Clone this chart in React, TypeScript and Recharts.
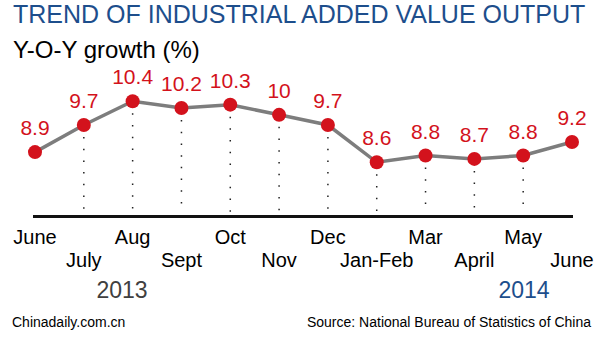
import { LineChart, Line, XAxis, YAxis, LabelList } from "recharts";

const months = ["June", "July", "Aug", "Sept", "Oct", "Nov", "Dec", "Jan-Feb", "Mar", "April", "May", "June"];
const growth = [8.9, 9.7, 10.4, 10.2, 10.3, 10.0, 9.7, 8.6, 8.8, 8.7, 8.8, 9.2];
const yearLabels = ["2013", "2014"];

const data = months.map((m, i) => ({ id: i, month: m, growth: growth[i] }));

const FONT = "'Liberation Sans', Arial, sans-serif";
const RED = "#d3121c";
const BLUE = "#1d4e8c";
const AXIS_Y = 216.5;

const Tick = (props: any) => {
  const { x, y, payload, index } = props;
  const dy = index % 2 === 0 ? 27.5 : 50.5;
  return (
    <text x={x} y={y + dy} textAnchor="middle" fontSize={20} fontFamily={FONT} fill="#000">
      {months[payload.value]}
    </text>
  );
};

const Dot = (props: any) => {
  const { cx, cy, index } = props;
  const showDrop = index > 0 && index < months.length - 1;
  return (
    <g key={`dot-${index}`}>
      {showDrop && (
        <line
          x1={cx}
          x2={cx}
          y1={cy + 12}
          y2={AXIS_Y - 3}
          stroke="#222"
          strokeWidth={1.5}
          strokeDasharray="1.5 10.2"
        />
      )}
      <circle cx={cx} cy={cy} r={7} fill={RED} />
    </g>
  );
};

const ValueLabel = (props: any) => {
  const { x, y, value } = props;
  return (
    <text x={x} y={y - 17} textAnchor="middle" fontSize={21} fontFamily={FONT} fill={RED}>
      {value}
    </text>
  );
};

export default function App() {
  return (
    <div style={{ position: "absolute", left: 0, top: 0, width: 601, height: 337, background: "#fff" }}>
      <LineChart
        width={601}
        height={337}
        data={data}
        margin={{ top: 64, right: 28, bottom: 60.5, left: 33 }}
      >
        <XAxis
          dataKey="id"
          type="category"
          padding={{ left: 2, right: 1 }}
          axisLine={{ stroke: "#111", strokeWidth: 3 }}
          tickLine={false}
          tickSize={0}
          tickMargin={0}
          height={60}
          interval={0}
          tick={<Tick />}
        />
        <YAxis hide domain={[7, 11.5]} />
        <Line
          dataKey="growth"
          stroke="#7d7d7d"
          strokeWidth={3.5}
          dot={<Dot />}
          activeDot={false}
          isAnimationActive={false}
        >
          <LabelList dataKey="growth" content={<ValueLabel />} />
        </Line>
      </LineChart>
      <svg
        width={601}
        height={337}
        style={{ position: "absolute", left: 0, top: 0, pointerEvents: "none" }}
        fontFamily={FONT}
      >
        <text x={13} y={23} fontSize={25} fill={BLUE}>
          TREND OF INDUSTRIAL ADDED VALUE OUTPUT
        </text>
        <text x={13} y={58} fontSize={24} fill="#000">
          Y-O-Y growth (%)
        </text>
        <text x={122} y={298} fontSize={23} fill="#404040" textAnchor="middle">
          {yearLabels[0]}
        </text>
        <text x={524} y={298} fontSize={23} fill={BLUE} textAnchor="middle">
          {yearLabels[1]}
        </text>
        <text x={12} y={327} fontSize={14} fill="#000">
          Chinadaily.com.cn
        </text>
        <text x={591} y={327} fontSize={14} fill="#000" textAnchor="end">
          Source: National Bureau of Statistics of China
        </text>
      </svg>
    </div>
  );
}
